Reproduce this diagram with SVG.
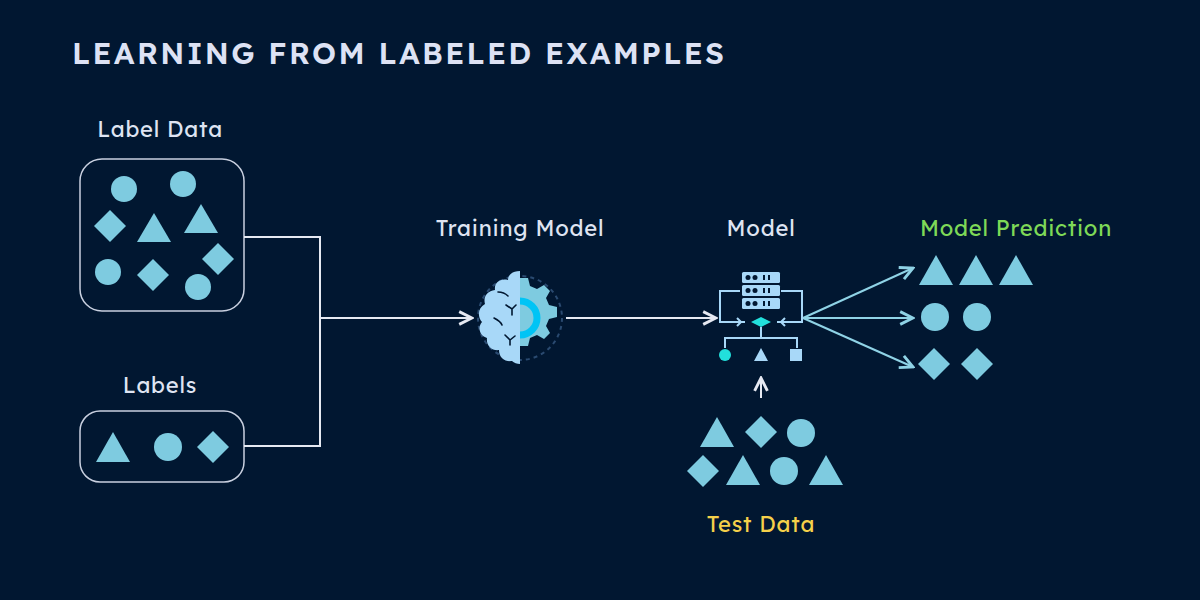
<svg xmlns="http://www.w3.org/2000/svg" width="1200" height="600" viewBox="0 0 1200 600">
<defs>
<style>
.t{font-family:"Lexend","Open Sans","Noto Sans",sans-serif;font-size:22px;fill:#dfe4f2;letter-spacing:0.8px}
.sh{fill:#7ecbe0}
.ln{stroke:#e6e9f2;stroke-width:2;fill:none}
.al{stroke:#8fd3e6;stroke-width:2;fill:none}
</style>
<marker id="a" viewBox="0 0 10 10" refX="9" refY="5" markerWidth="8" markerHeight="8" orient="auto"><path d="M1 1L9 5L1 9" fill="none" stroke="#e6e9f2" stroke-width="1.8"/></marker>
<marker id="b" viewBox="0 0 10 10" refX="9" refY="5" markerWidth="8" markerHeight="8" orient="auto"><path d="M1 1L9 5L1 9" fill="none" stroke="#8fd3e6" stroke-width="1.8"/></marker>
</defs>
<rect width="1200" height="600" fill="#011731"/>
<text x="72" y="64" style="font-family:'Lexend','Open Sans',sans-serif;font-size:30px;font-weight:600;letter-spacing:2.3px;fill:#dde2f4">LEARNING FROM LABELED EXAMPLES</text>

<g id="label-data">
<text class="t" x="160" y="137" text-anchor="middle">Label Data</text>
<rect x="80" y="159" width="164" height="152" rx="22" fill="none" stroke="#c9d0e0" stroke-width="1.5"/>
<circle class="sh" cx="124" cy="189" r="13"/><circle class="sh" cx="183" cy="184" r="13"/>
<path class="sh" d="M110 210L126 226L110 242L94 226Z"/>
<path class="sh" d="M154 213L171 242L137 242Z"/>
<path class="sh" d="M201 204L218 233L184 233Z"/>
<path class="sh" d="M218 243L234 259L218 275L202 259Z"/>
<circle class="sh" cx="108" cy="272" r="13"/>
<path class="sh" d="M153 259L169 275L153 291L137 275Z"/>
<circle class="sh" cx="198" cy="287" r="13"/>
</g>

<g id="labels">
<text class="t" x="160" y="393" text-anchor="middle">Labels</text>
<rect x="80" y="411" width="164" height="71" rx="20" fill="none" stroke="#c9d0e0" stroke-width="1.5"/>
<path class="sh" d="M113 432L130 462L96 462Z"/>
<circle class="sh" cx="168" cy="447" r="14"/>
<path class="sh" d="M213 431L229 447L213 463L197 447Z"/>
</g>

<g id="connectors">
<path class="ln" d="M244 237H320V446H244"/>
<path class="ln" d="M320 318H472" marker-end="url(#a)"/>
<path class="ln" d="M566 318H716" marker-end="url(#a)"/>
<path class="ln" d="M761 398V378" marker-end="url(#a)"/>
<path class="al" d="M803 318L913 268" marker-end="url(#b)"/>
<path class="al" d="M803 318H913" marker-end="url(#b)"/>
<path class="al" d="M803 318L913 367" marker-end="url(#b)"/>
</g>

<g id="training-model">
<text class="t" x="520" y="236" text-anchor="middle">Training Model</text>
<circle cx="520" cy="318" r="42" fill="none" stroke="#2a4a70" stroke-width="2" stroke-dasharray="4 4"/>
<path fill="#7ecbe0" d="M520 278h8l2 8 7 3 7-4 6 6-4 7 3 7 8 2v10l-8 2-3 7 4 7-6 6-7-4-7 3-2 8h-8Z"/>
<path fill="none" stroke="#00c4f5" stroke-width="7" d="M520 301a17 17 0 0 1 0 34"/>
<path fill="#a8d8f8" d="M520 271c-8 0-12 4-12 9-8-2-14 3-13 10-8 1-12 7-10 14-7 4-8 12-3 18-5 6-2 14 5 16-1 8 5 13 12 12 0 8 6 12 13 11 2 2 5 3 8 3Z"/>
<g stroke="#011731" stroke-width="1.6" fill="none" stroke-linecap="round">
<path d="M498 292c4 0 8 2 10 4M506 305l6 4 4-4M512 309v6M494 318c4 2 7 4 8 7M505 335l5 5 5-4M510 340v5"/>
</g>
</g>

<g id="model">
<text class="t" x="761" y="236" text-anchor="middle">Model</text>
<g fill="#a8d8f8"><rect x="742" y="272" width="38" height="11" rx="1.5"/><rect x="742" y="285" width="38" height="11" rx="1.5"/><rect x="742" y="298" width="38" height="11" rx="1.5"/></g>
<g fill="#011731"><circle cx="748" cy="277.5" r="2.5"/><circle cx="755" cy="277.5" r="2.5"/><circle cx="748" cy="290.5" r="2.5"/><circle cx="755" cy="290.5" r="2.5"/><circle cx="748" cy="303.5" r="2.5"/><circle cx="755" cy="303.5" r="2.5"/>
<rect x="763" y="275" width="2" height="5"/><rect x="768" y="275" width="2" height="5"/><rect x="763" y="288" width="2" height="5"/><rect x="768" y="288" width="2" height="5"/><rect x="763" y="301" width="2" height="5"/><rect x="768" y="301" width="2" height="5"/></g>
<path d="M740 291H720V322H745M781 291H802V322H777M737 318l4 4-4 4M785 318l-4 4 4 4" fill="none" stroke="#a8d8f8" stroke-width="2"/>
<path d="M761 317L771 322L761 327L751 322Z" fill="#22e0dc"/>
<path d="M761 327V338M725 348V338H797V348" fill="none" stroke="#a8d8f8" stroke-width="2"/>
<circle cx="725" cy="355" r="6" fill="#22e0dc"/>
<path d="M761 348L768 361H754Z" fill="#a8d8f8"/>
<rect x="790" y="349" width="12" height="12" fill="#a8d8f8"/>
</g>

<g id="test-data">
<path class="sh" d="M717 417L734 447L700 447Z"/>
<path class="sh" d="M761 416L777 432L761 448L745 432Z"/>
<circle class="sh" cx="801" cy="433" r="14"/>
<path class="sh" d="M703 455L719 471L703 487L687 471Z"/>
<path class="sh" d="M743 455L760 485L726 485Z"/>
<circle class="sh" cx="784" cy="471" r="14"/>
<path class="sh" d="M826 455L843 485L809 485Z"/>
<text x="761" y="532" text-anchor="middle" style="font-family:'Lexend','Open Sans',sans-serif;font-size:22px;letter-spacing:0.8px;fill:#f5d04a">Test Data</text>
</g>

<g id="model-prediction">
<text x="1016" y="236" text-anchor="middle" style="font-family:'Lexend','Open Sans',sans-serif;font-size:22px;letter-spacing:0.8px;fill:#7ed957">Model Prediction</text>
<path class="sh" d="M936 255L953 285L919 285Z"/><path class="sh" d="M976 255L993 285L959 285Z"/><path class="sh" d="M1016 255L1033 285L999 285Z"/>
<circle class="sh" cx="935" cy="317" r="14"/><circle class="sh" cx="977" cy="317" r="14"/>
<path class="sh" d="M934 348L950 364L934 380L918 364Z"/><path class="sh" d="M977 348L993 364L977 380L961 364Z"/>
</g>
</svg>
